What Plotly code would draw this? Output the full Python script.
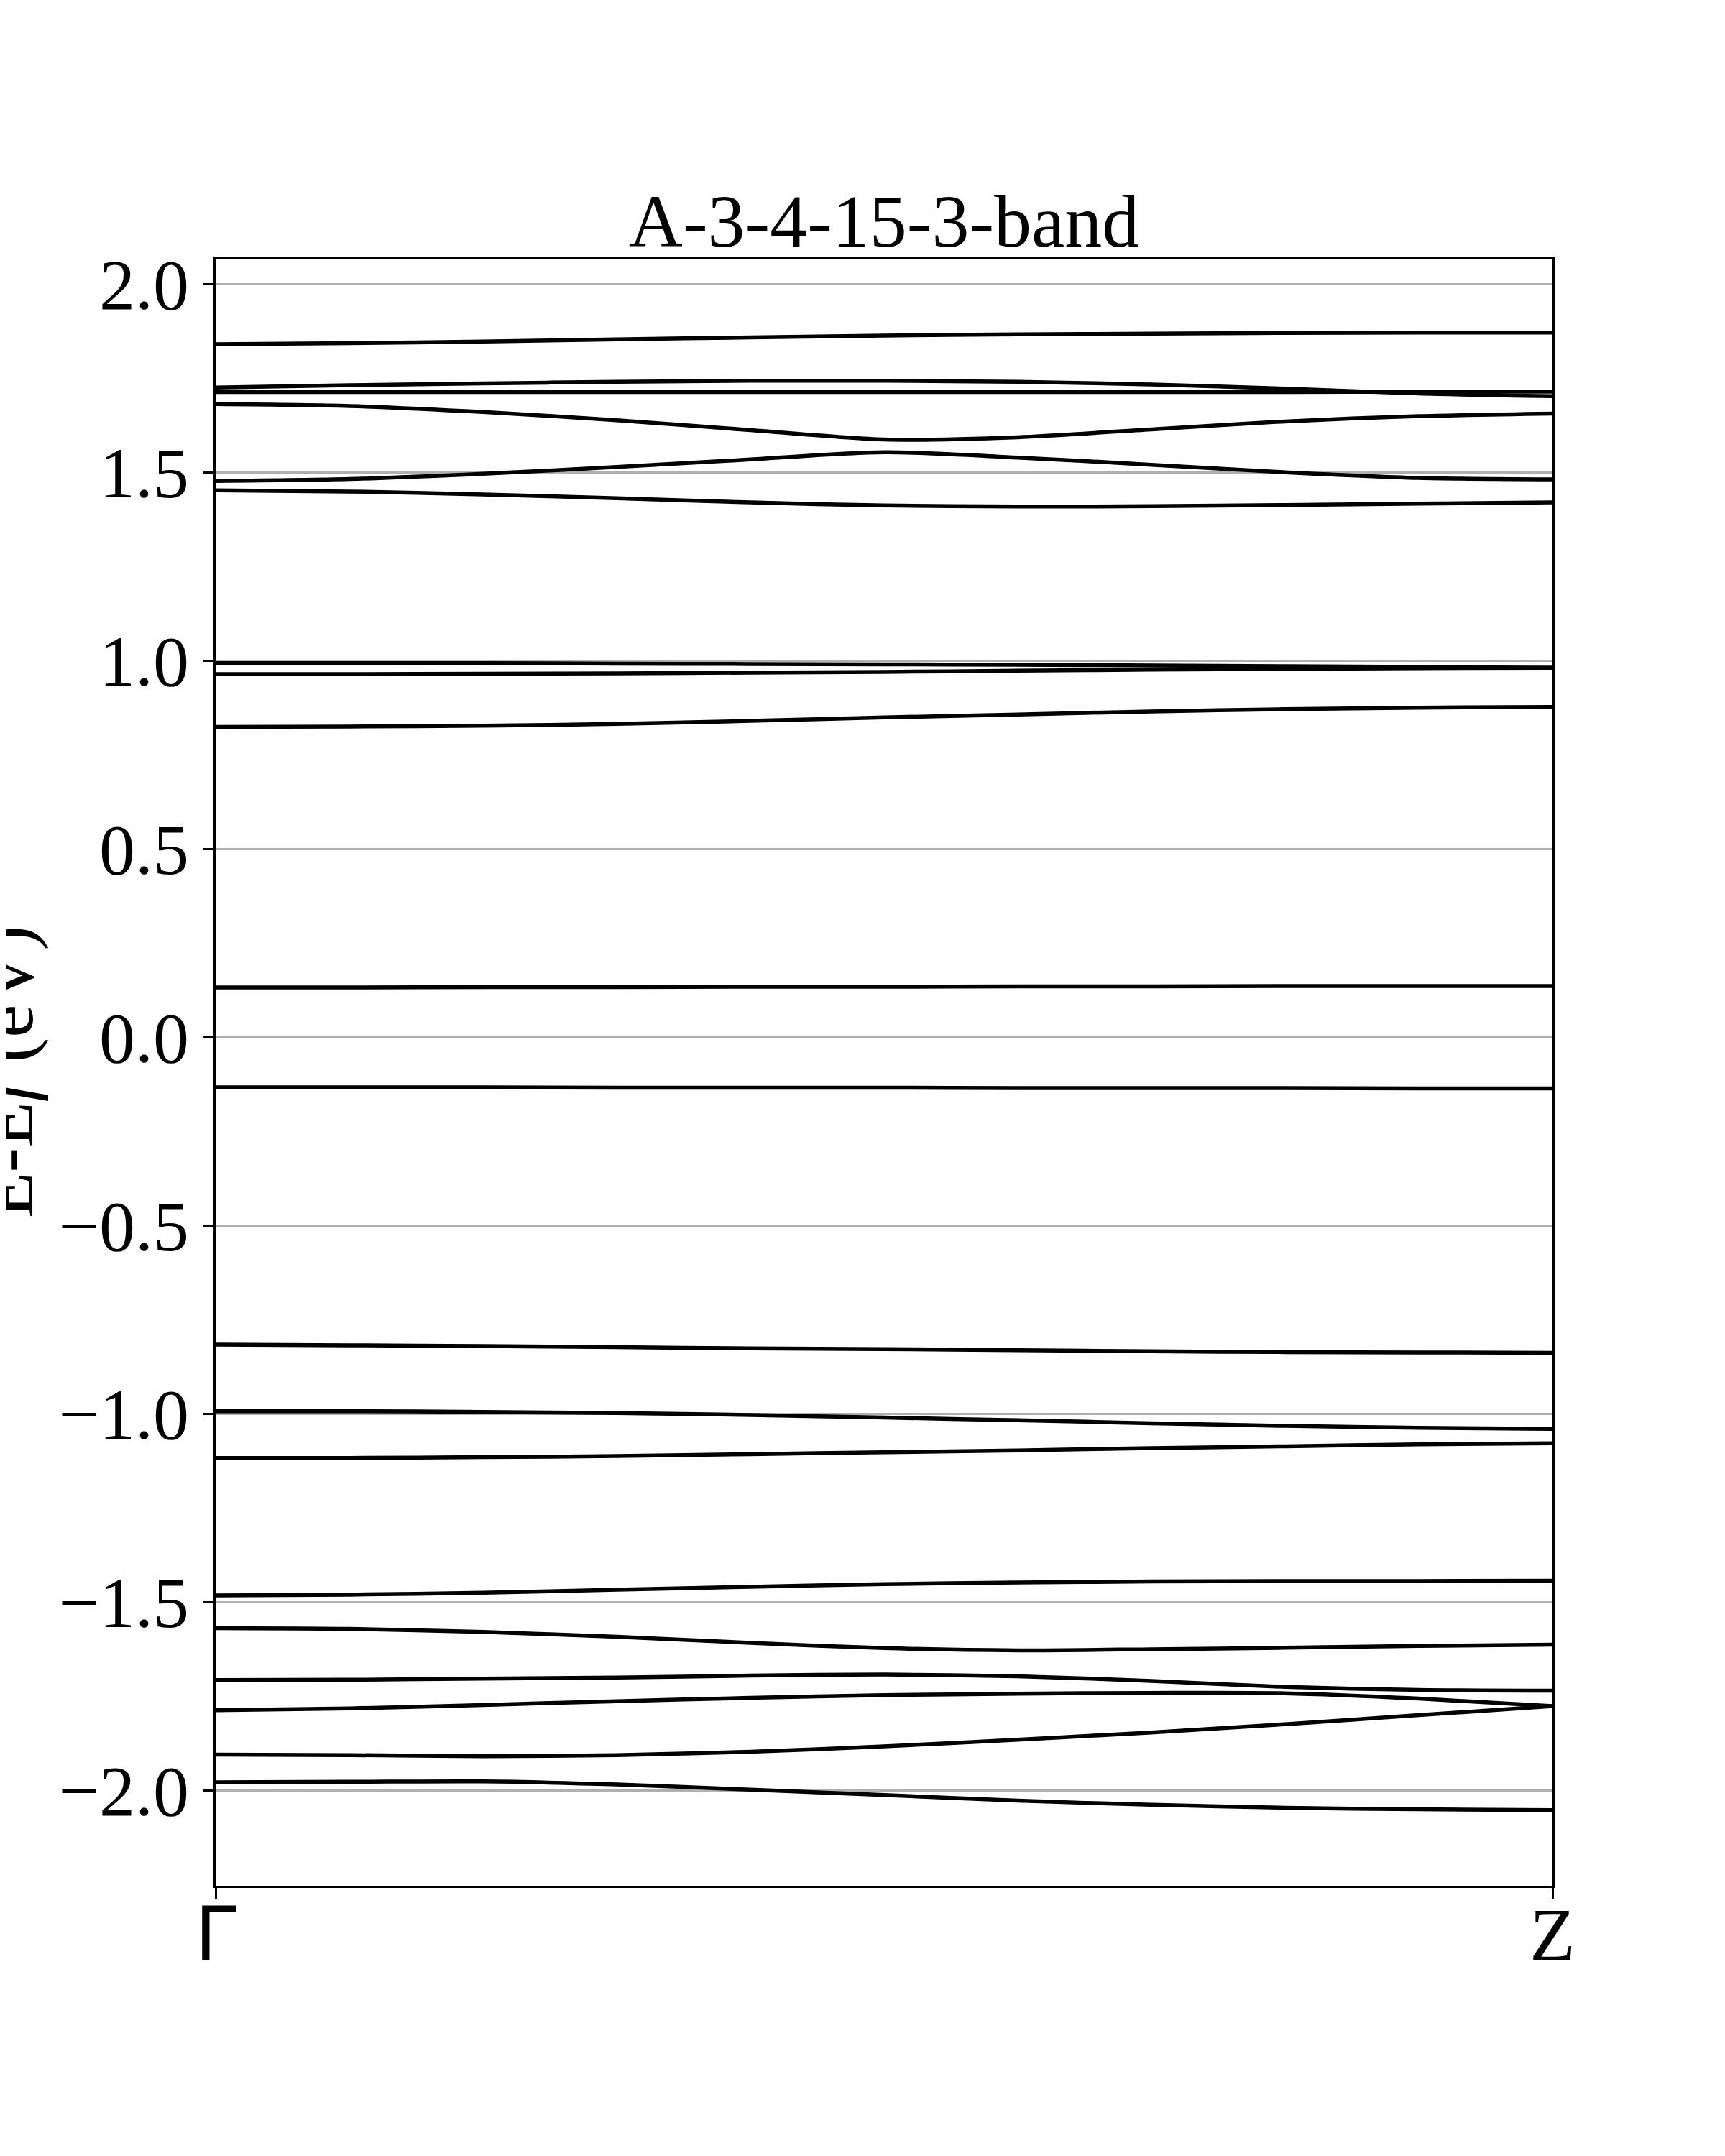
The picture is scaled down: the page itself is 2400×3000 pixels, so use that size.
import plotly.graph_objects as go

# k-path positions (fraction of path from Gamma to Z)
kpath = [0.0, 0.1, 0.2, 0.3, 0.4, 0.5, 0.6, 0.7, 0.8, 0.9, 1.0]
kpoint_pos = [0.0, 1.0]
kpoint_labels = ["Γ", "Z"]
yticks = [-2.0, -1.5, -1.0, -0.5, 0.0, 0.5, 1.0, 1.5, 2.0]

# band energies E - Ef (eV)
band_01 = [1.840, 1.843, 1.847, 1.853, 1.858, 1.863, 1.866, 1.868, 1.870, 1.871, 1.871]
band_02 = [1.725, 1.731, 1.736, 1.740, 1.743, 1.743, 1.740, 1.733, 1.722, 1.709, 1.702]
band_03 = [1.713, 1.713, 1.713, 1.713, 1.713, 1.713, 1.713, 1.713, 1.713, 1.714, 1.714]
band_04 = [1.681, 1.676, 1.660, 1.638, 1.612, 1.587, 1.593, 1.614, 1.635, 1.649, 1.656]
band_05 = [1.477, 1.482, 1.496, 1.514, 1.534, 1.553, 1.539, 1.520, 1.500, 1.485, 1.481]
band_06 = [1.452, 1.449, 1.441, 1.431, 1.420, 1.412, 1.409, 1.410, 1.413, 1.417, 1.420]
band_07 = [0.993, 0.993, 0.993, 0.992, 0.991, 0.990, 0.989, 0.987, 0.985, 0.983, 0.981]
band_08 = [0.964, 0.964, 0.965, 0.966, 0.968, 0.970, 0.973, 0.976, 0.978, 0.980, 0.981]
band_09 = [0.824, 0.825, 0.827, 0.832, 0.840, 0.849, 0.857, 0.865, 0.871, 0.875, 0.877]
band_10 = [0.132, 0.132, 0.133, 0.133, 0.134, 0.134, 0.135, 0.135, 0.136, 0.136, 0.136]
band_11 = [-0.133, -0.133, -0.133, -0.134, -0.134, -0.134, -0.135, -0.135, -0.135, -0.136, -0.136]
band_12 = [-0.816, -0.818, -0.820, -0.823, -0.826, -0.828, -0.831, -0.834, -0.836, -0.837, -0.838]
band_13 = [-0.993, -0.993, -0.995, -0.998, -1.003, -1.010, -1.017, -1.025, -1.032, -1.037, -1.040]
band_14 = [-1.117, -1.117, -1.115, -1.112, -1.107, -1.102, -1.097, -1.091, -1.086, -1.081, -1.078]
band_15 = [-1.482, -1.480, -1.475, -1.467, -1.459, -1.452, -1.448, -1.445, -1.444, -1.444, -1.443]
band_16 = [-1.569, -1.571, -1.579, -1.592, -1.608, -1.622, -1.628, -1.625, -1.621, -1.616, -1.613]
band_17 = [-1.707, -1.706, -1.703, -1.700, -1.695, -1.692, -1.697, -1.709, -1.725, -1.733, -1.735]
band_18 = [-1.787, -1.782, -1.773, -1.763, -1.754, -1.747, -1.743, -1.741, -1.742, -1.756, -1.776]
band_19 = [-1.905, -1.906, -1.909, -1.906, -1.897, -1.883, -1.865, -1.846, -1.824, -1.800, -1.776]
band_20 = [-1.978, -1.977, -1.976, -1.984, -1.998, -2.012, -2.027, -2.038, -2.046, -2.050, -2.052]

bands = [band_01, band_02, band_03, band_04, band_05, band_06, band_07, band_08, band_09, band_10,
         band_11, band_12, band_13, band_14, band_15, band_16, band_17, band_18, band_19, band_20]

SERIF = "Liberation Serif, Times New Roman, serif"
FS = 100
FS_BIG = 104

# the page body adds an 8 px offset; margins are set so the plot frame lands at
# x 300..2160, y 360..2624 in the final picture
ML, MR, MT, MB = 292, 248, 352, 384
PW = 2400 - ML - MR

fig = go.Figure()
for b in bands:
    fig.add_trace(go.Scatter(x=kpath, y=b, mode="lines",
                             line=dict(color="black", width=5.5, shape="spline", smoothing=0.8),
                             showlegend=False, hoverinfo="skip"))

fig.update_layout(
    width=2400, height=3000,
    paper_bgcolor="white", plot_bgcolor="white",
    margin=dict(l=ML, r=MR, t=MT, b=MB),
    title=dict(text="A-3-4-15-3-band", x=(ML + PW / 2) / 2400, xanchor="center",
               y=1 - 335 / 3000, yanchor="bottom",
               font=dict(family=SERIF, size=FS_BIG, color="black")),
    font=dict(family=SERIF, size=FS, color="black"),
)

fig.update_xaxes(
    range=[0, 1], tickmode="array", tickvals=kpoint_pos,
    ticktext=['<span style="font-family:DejaVu Sans">' + kpoint_labels[0] + '</span>', kpoint_labels[1]],
    showgrid=False, zeroline=False,
    showline=True, linecolor="black", linewidth=3, mirror=True,
    ticks="outside", ticklen=15, tickwidth=3, tickcolor="black",
    ticklabelstandoff=-40,
    tickfont=dict(family=SERIF, size=FS_BIG, color="black"),
)

fig.update_yaxes(
    range=[-2.253, 2.067], tickmode="array", tickvals=yticks, tickformat=".1f",
    showgrid=True, gridcolor="#b0b0b0", gridwidth=2.5, zeroline=False,
    showline=True, linecolor="black", linewidth=3, mirror=True,
    ticks="outside", ticklen=14, tickwidth=3, tickcolor="black",
    tickfont=dict(family=SERIF, size=FS, color="black"),
)

fig.add_annotation(
    text="E-E<i>f</i> (eV)", textangle=-90,
    xref="paper", yref="paper", x=(2 - ML) / PW, y=0.5,
    xanchor="center", yanchor="middle", showarrow=False,
    font=dict(family=SERIF, size=FS_BIG, color="black"),
)

fig.write_html("out.html")
